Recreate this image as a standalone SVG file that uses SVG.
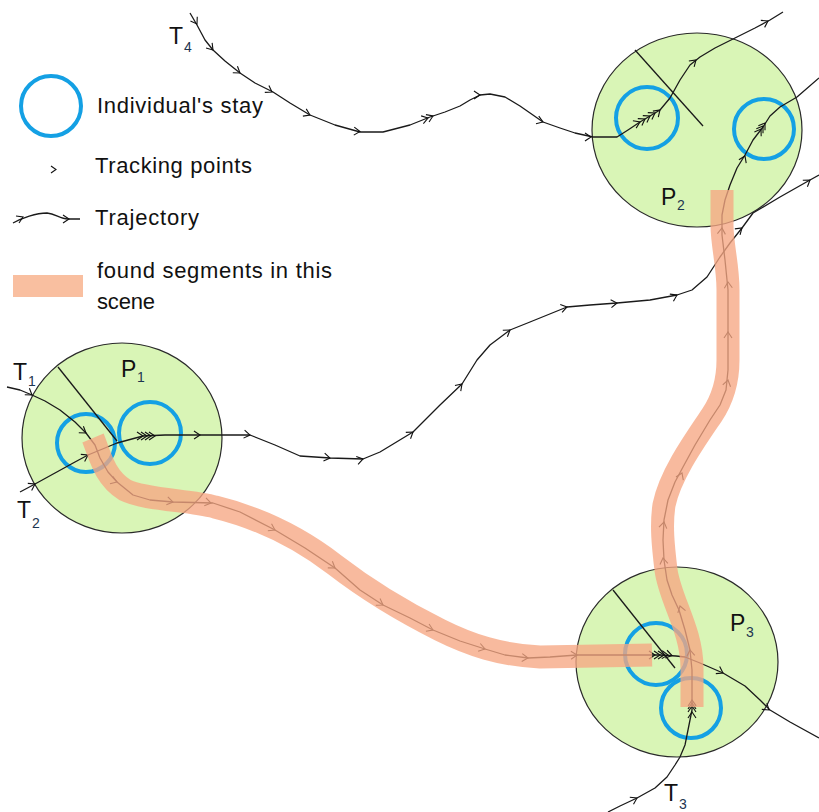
<svg xmlns="http://www.w3.org/2000/svg" width="819" height="812" viewBox="0 0 819 812">
<style>
.place{fill:#d9f5b6;stroke:#2a2a2a;stroke-width:1.2}
.stay{fill:none;stroke:#14a0e4;stroke-width:4}
.traj{fill:none;stroke:#1a1a1a;stroke-width:1.3;stroke-linejoin:round}
.guide{fill:none;stroke:none;marker-start:url(#ch);marker-mid:url(#ch);marker-end:url(#ch)}
.chev{fill:none;stroke:#111;stroke-width:1.1}
.radial{fill:none;stroke:#1a1a1a;stroke-width:1.3}
.band{fill:none;stroke:#f6a683;stroke-opacity:0.78;stroke-width:23;stroke-linejoin:round;stroke-linecap:butt}
.lbl{font-family:"Liberation Sans",Arial,sans-serif;font-size:22px;fill:#111}
.big{font-family:"Liberation Sans",Arial,sans-serif;font-size:23px;fill:#111}
.sub{font-family:"Liberation Sans",Arial,sans-serif;font-size:14px;fill:#1d3550}
</style>
<defs>
<marker id="ch" markerUnits="userSpaceOnUse" markerWidth="12" markerHeight="12" viewBox="-8 -6 12 12" refX="0" refY="0" orient="auto" overflow="visible">
<path d="M-6,-4 L0,0 L-6,4" fill="none" stroke="#111" stroke-width="1.1"/>
</marker>
</defs>
<rect width="819" height="812" fill="#fff"/>

<g id="legend">
<circle class="stay" cx="51" cy="106" r="30"/>
<text class="lbl" x="97" y="113" textLength="166">Individual's stay</text>
<path class="chev" d="M51,166 L56,169.5 L51,173"/>
<text class="lbl" x="95" y="173" textLength="157">Tracking points</text>
<path class="traj" d="M13,223 C22,218 36,213 47,213 C56,214 60,219 68,219 L80,219"/>
<path class="chev" d="M16,216 L23,217 L19,223"/>
<path class="chev" d="M63,215 L69,219 L63,223"/>
<text class="lbl" x="95" y="225" textLength="104">Trajectory</text>
<rect x="13" y="275" width="70" height="22" fill="#f9bfa0"/>
<text class="lbl" x="97" y="278" textLength="235">found segments in this</text>
<text class="lbl" x="97" y="309" textLength="58">scene</text>
</g>

<g id="P1">
<ellipse class="place" cx="122" cy="438" rx="100" ry="95"/>
<circle class="stay" cx="86" cy="443" r="29"/>
<circle class="stay" cx="150" cy="433" r="31"/>
<path class="radial" d="M58,367 L117,441"/>
<text class="big" x="121" y="377">P</text><text class="sub" x="137" y="382">1</text>
</g>

<g id="P2">
<ellipse class="place" cx="697" cy="130" rx="105" ry="97"/>
<circle class="stay" cx="647" cy="118" r="31"/>
<circle class="stay" cx="764" cy="129" r="30"/>
<path class="radial" d="M635,50 L703,126"/>
<text class="big" x="661" y="205">P</text><text class="sub" x="677" y="210">2</text>
</g>

<g id="P3">
<ellipse class="place" cx="677" cy="662" rx="101" ry="95"/>
<circle class="stay" cx="656" cy="654" r="31"/>
<circle class="stay" cx="691" cy="708" r="30"/>
<path class="radial" d="M613,590 L675,668"/>
<text class="big" x="730" y="631">P</text><text class="sub" x="746" y="637">3</text>
</g>

<g id="connectors">
<!-- T4 -->
<polyline class="traj" points="190,13 197,25 205,40 213,50 225,61 240,73 255,83 273,92 290,103 310,115 335,125 360,132 383,132 410,125 430,117 445,112 460,106 470,100 480,95 490,94 505,97 520,106 543,122 560,128 575,133 593,137 617,137 628,130 640,122 660,110 670,98 680,80 690,65 700,57 715,48 735,38 755,28 770,20 783,12"/>
<path class="guide" d="M197,24 L213,50 L240,73 L272,92 L310,115 L360,131.5 L428,118 L433,116 L480,95 L543,122 L591,137 L640,122 L645,119 L650,116 L655,113 L660,110 L696,60 L768,21"/>
<!-- T1 -> P1 -> P3 -> out -->
<polyline class="traj" points="7,387 20,390 32,395 45,401 60,410 75,422 86,433 95,445 100,458 108,472 117,482 133,495 150,500 173,502 213,503 240,512 275,530 305,548 335,568 360,590 383,605 410,618 433,630 460,641 485,649 505,655 528,658 550,657 577,655 620,655 660,655 676,656 685,657 700,663 723,673 745,686 760,700 770,710 790,722 819,738"/>
<path class="guide" d="M32,395 L86,433"/>
<path class="guide" d="M117,482 L173,502 L211,503 L275,530 L335,568 L383,605 L433,630 L485,649 L528,658 L577,655 L655,655 L660,655 L664,655 L668,655 L672,655.5 L723,673 L769,710"/>
<!-- T2 -> P1 -> right edge -->
<polyline class="traj" points="20,492 35,484 55,473 75,462 88,455 117,443 143,436 165,435 200,435 250,435 275,445 300,456 330,458 363,459 380,452 413,432 440,405 462,384 477,360 490,345 510,330 530,322 567,307 590,305 617,303 650,300 677,295 692,290 707,277 720,257 730,243 742,228 753,213 780,197 810,180 819,175"/>
<path class="guide" d="M35,484 L88,455"/>
<path class="guide" d="M143,436 L147,436 L151,436 L155,436 L200,435 L250,435 L330,458 L363,459 L413,432 L462,384 L510,330 L567,307 L617,303 L677,295 L742,228 L810,180"/>
<!-- T3 -> P3 -> P2 -> out -->
<polyline class="traj" points="608,812 620,806 637,798 655,788 667,777 675,765 680,757 685,745 688,730 690,720 692,710 692,700 692,670 690,650 685,630 679,610 672,595 667,580 664,560 663,540 664,520 668,500 675,482 683,467 695,445 710,420 720,405 726,390 728,370 728,330 728,290 725,260 722,235 722,215 725,200 730,185 737,168 745,155 753,140 763,127 770,116 780,107 797,97 819,78"/>
<path class="chev" d="M629.8,797.2 L637,798 L633.5,804.3"/>
<path class="guide" d="M692,712 L692,706 L692,703 L692,700 L690,650 L680,606 L663,558 L664,522 L682,473 L728,380 L728,332 L728,282 L722,228 L745,156 L761,129 L763,126 L765,123"/>
</g>

<g id="found-segments">
<path class="band" d="M93,438 C100,455 104,477 125,490 C145,500 190,500 215,507 C260,518 300,538 335,565 C370,592 400,610 440,630 C470,645 500,655 540,657 L652,655"/>
<path class="band" d="M692,707 L692,668 C692,630 670,600 666,570 C663,545 661,525 664,505 C670,475 695,440 712,415 C724,397 728,380 728,360 L728,290 C728,265 722,245 722,225 L722,190"/>
</g>

<g id="labels">
<text class="big" x="13" y="380">T</text><text class="sub" x="28" y="386">1</text>
<text class="big" x="17" y="518">T</text><text class="sub" x="32" y="528">2</text>
<text class="big" x="169" y="44">T</text><text class="sub" x="184" y="52">4</text>
<text class="big" x="664" y="801">T</text><text class="sub" x="679" y="809">3</text>
</g>
</svg>
